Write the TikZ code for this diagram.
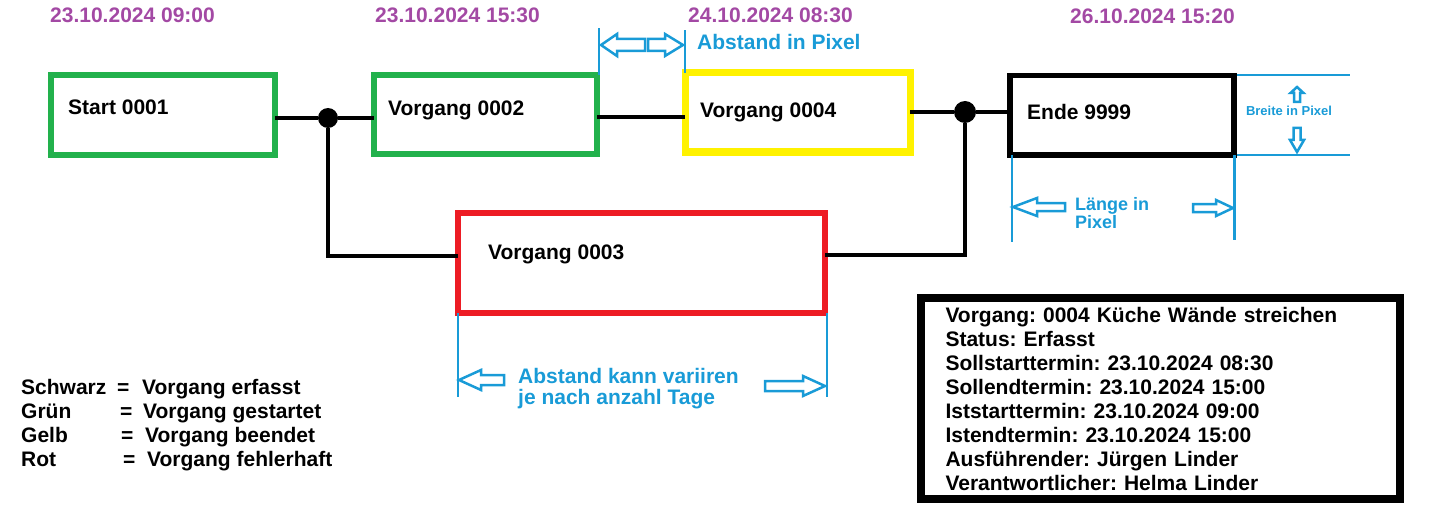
\documentclass[tikz,border=0pt]{standalone}
\usepackage{fontspec}
\setmainfont{Liberation Sans}
\usetikzlibrary{positioning}
\usetikzlibrary{calc}

\definecolor{paintgreen}{RGB}{34,177,76}
\definecolor{paintyellow}{RGB}{255,242,0}
\definecolor{paintred}{RGB}{237,28,36}
\definecolor{paintpurple}{RGB}{163,73,164}
\definecolor{paintblue}{RGB}{25,155,215}

\begin{document}
\frenchspacing
\begin{tikzpicture}[x=1pt, y=-1pt,
        every node/.style={font=\fontsize{21}{24}\selectfont\bfseries, inner sep=0pt},
        vorgang/.style={rectangle, draw=#1, line width=6pt, outer sep=0pt,
            minimum width=224pt, minimum height=80pt},
        boxtext/.style={anchor=base west},
        datum/.style={anchor=base west, text=paintpurple},
        conn/.style={line width=3.5pt},
        knoten/.style={circle, fill=black, minimum size=20pt},
        masslinie/.style={draw=paintblue, line width=2pt},
        masstext/.style={text=paintblue},
        pics/hohlpfeil/.style n args={4}{code={
            \draw[masslinie, line width=2.5pt] (0,0) -- (#2,-#3) -- (#2,-#4) -- (#1,-#4)
                -- (#1,#4) -- (#2,#4) -- (#2,#3) -- cycle;}}]
        \useasboundingbox (0,0) rectangle (1432,524);

        % Termine
        \node[datum] (d1) at (50,23) {23.10.2024 09:00};
        \node[datum] (d2) at (375,23) {23.10.2024 15:30};
        \node[datum] (d4) at (688,23) {24.10.2024 08:30};
        \node[datum] (d9) at (1070,24) {26.10.2024 15:20};

        % Verbindungen
        \node[knoten] (j1) at (328,118) {};
        \node[knoten, minimum size=22pt] (j2) at (965,112) {};

        % Vorgaenge
        \node[vorgang=paintgreen] (start) at (163,115) {};
        \node[vorgang=paintgreen, minimum width=223pt, minimum height=79pt] (v2) at
            (485.5,114.5) {};
        \node[vorgang=paintyellow, line width=7pt, minimum width=225pt,
            minimum height=79pt] (v4) at (797.5,112.5) {};
        \node[vorgang=black, line width=5.5pt, minimum height=79.5pt] (ende) at
            (1122,115.25) {};
        \node[vorgang=paintred, minimum width=367pt, minimum height=100pt] (v3) at
            (641.5,263) {};

        \node[boxtext] (startname) at (68,115) {Start 0001};
        \node[boxtext] (v2name) at (388,115.5) {Vorgang 0002};
        \node[boxtext] (v4name) at (700,117.5) {Vorgang 0004};
        \node[boxtext] (endename) at (1027,119.5) {Ende 9999};
        \node[boxtext] (v3name) at (488,259) {Vorgang 0003};

        \draw[conn] (start.east |- j1) -- (j1) -- (v2.west |- j1);
        \draw[conn] (j1) |- (v3.west |- 0,256);
        \draw[conn] (v2.east |- 0,117) -- (v4.west |- 0,117);
        \draw[conn] (v4.east |- j2) -- (j2) -- (ende.west |- j2);
        \draw[conn, line width=4.5pt] (j2) |- (v3.east |- 0,255);

        % Abstand oben
        \draw[masslinie] ([xshift=1.5pt]v2.north east) -- ++(0,-47);
        \draw[masslinie] (v4.north west) -- ++(0,-43);
        \pic at (601,45) {hohlpfeil={44}{16}{11}{6}};
        \pic[rotate=180] at (683,45) {hohlpfeil={35}{18}{11}{6}};
        \node[masstext, anchor=base west] (abstand) at (697,50) {Abstand in Pixel};

        % Abstand unten
        \draw[masslinie] (v3.south west) -- ++(0,84);
        \draw[masslinie] ([xshift=1.5pt]v3.south east) -- ++(0,84);
        \pic at (459,380) {hohlpfeil={45}{22}{10}{5}};
        \pic[rotate=180] at (825,386) {hohlpfeil={60}{22}{10}{5}};
        \node[masstext, font=\fontsize{21}{21}\selectfont\bfseries, align=left,
            anchor=west] (variiren) at (518,389) {Abstand kann variiren\\je nach anzahl Tage};

        % Laenge und Breite
        \draw[masslinie] ([xshift=2pt]ende.south west) -- ++(0,87);
        \draw[masslinie, line width=3pt] (ende.south east) -- ++(0,85);
        \draw[masslinie] ([xshift=3pt]ende.north east) -- ++(113,0);
        \draw[masslinie] ([xshift=3pt]ende.south east) -- ++(113,0);
        \pic at (1013,207) {hohlpfeil={52}{24}{9}{4}};
        \pic[rotate=180] at (1233,208) {hohlpfeil={40}{17}{8}{4}};
        \pic[rotate=-90] at (1297,87) {hohlpfeil={15}{6}{6.5}{3}};
        \pic[rotate=90] at (1297,152) {hohlpfeil={24}{12}{7}{3.5}};
        \node[masstext, font=\fontsize{18}{18}\selectfont\bfseries, align=left,
            anchor=west] (laenge) at (1075,213) {Länge in\\Pixel};
        \node[masstext, font=\fontsize{13}{13}\selectfont\bfseries] (breite) at
            (1289,111) {Breite in Pixel};

        % Legende
        \foreach \farbe/\eqx/\txx/\erkl/\y [count=\i] in {Schwarz/117/142/erfasst/394.5,
            Grün/120/143/gestartet/418.5, Gelb/121/145/beendet/442.5,
            Rot/123/147/fehlerhaft/466.5}
        {
            \node[anchor=base west] (leg\i) at (21,\y) {\farbe};
            \node[anchor=base west] (legeq\i) at (\eqx,\y) {=};
            \node[anchor=base west] (legtx\i) at (\txx,\y) {Vorgang \erkl};
        }

        % Details
        \node[draw=black, line width=8pt, minimum width=479pt, minimum height=201pt,
            text width=430pt, align=left] (info) at (1160.5,398.5)
            {Vorgang: 0004 Küche Wände streichen\\
            Status: Erfasst\\
            Sollstarttermin: 23.10.2024 08:30\\
            Sollendtermin: 23.10.2024 15:00\\
            Iststarttermin: 23.10.2024 09:00\\
            Istendtermin: 23.10.2024 15:00\\
            Ausführender: Jürgen Linder\\
            Verantwortlicher: Helma Linder};

\end{tikzpicture}
\end{document}
